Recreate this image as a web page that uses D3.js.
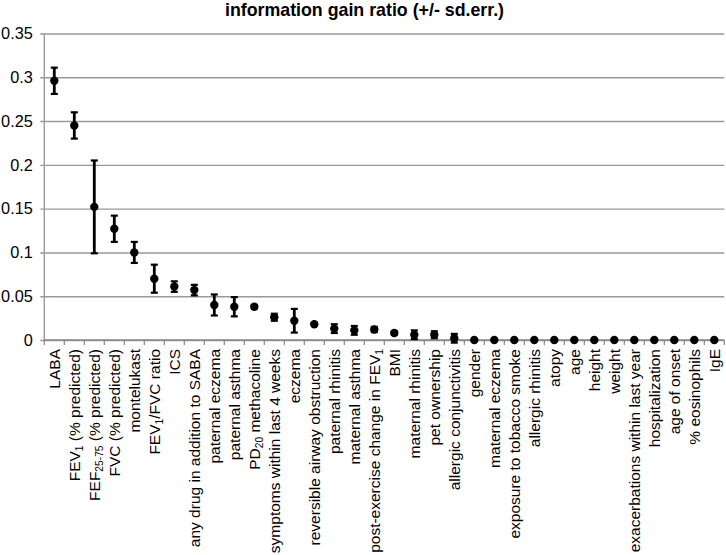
<!DOCTYPE html>
<html>
<head>
<meta charset="utf-8">
<script src="https://cdn.jsdelivr.net/npm/d3@7"></script>
<style>
  body { margin: 0; background: #fff; }
  svg { display: block; font-family: "Liberation Sans", Arial, sans-serif; }
</style>
</head>
<body>
<svg id="chart" width="726" height="555"></svg>
<script>
// ---- data ----
const categories = [
  "LABA", "FEV_{1} (% predicted)", "FEF_{25-75} (% predicted)", "FVC (% predicted)",
  "montelukast", "FEV_{1}/FVC ratio", "ICS", "any drug in addition to SABA",
  "paternal eczema", "paternal asthma", "PD_{20} methacoline", "symptoms within last 4 weeks",
  "eczema", "reversible airway obstruction", "paternal rhinitis", "maternal asthma",
  "post-exercise change in FEV_{1}", "BMI", "maternal rhinitis", "pet ownership",
  "allergic conjunctivitis", "gender", "maternal eczema", "exposure to tobacco smoke",
  "allergic rhinitis", "atopy", "age", "height", "weight",
  "exacerbations within last year", "hospitalization", "age of onset", "% eosinophils", "IgE"
];
const gainRatio = [
  0.296, 0.245, 0.152, 0.127, 0.100, 0.070, 0.061, 0.057,
  0.040, 0.038, 0.038, 0.026, 0.022, 0.018, 0.013, 0.011,
  0.012, 0.008, 0.006, 0.006, 0.002, 0, 0, 0,
  0, 0, 0, 0, 0, 0, 0, 0, 0, 0
];
const stdErr = [
  0.015, 0.015, 0.053, 0.015, 0.012, 0.016, 0.006, 0.006,
  0.012, 0.011, 0.002, 0.004, 0.0135, 0.001, 0.005, 0.005,
  0.003, 0.002, 0.005, 0.004, 0.005, 0, 0, 0,
  0, 0, 0, 0, 0, 0, 0, 0, 0, 0
];
const yTicks = [0, 0.05, 0.1, 0.15, 0.2, 0.25, 0.3, 0.35];
const title = "information gain ratio (+/- sd.err.)";

const data = categories.map((c, i) => ({ cat: c, v: gainRatio[i], e: stdErr[i] }));

// ---- layout ----
const svg = d3.select("#chart");
const mLeft = 44.3, mRight = 724.3, mTop = 33.5, mBottom = 340;
const fs = 15.5;

const x = d3.scaleBand().domain(categories).range([mLeft, mRight]).padding(0);
const y = d3.scaleLinear().domain([0, 0.35]).range([mBottom, mTop]);

// title
svg.append("text")
  .attr("x", 364.5).attr("y", 15.5)
  .attr("text-anchor", "middle")
  .attr("font-weight", "bold")
  .attr("font-size", 17.8)
  .text(title);

// gridlines + y axis
const yAxis = d3.axisLeft(y).tickValues(yTicks)
  .tickSize(-(mRight - mLeft)).tickPadding(8)
  .tickFormat(d => d === 0 ? "0" : String(+d.toFixed(2)));
const gy = svg.append("g").attr("transform", `translate(${mLeft},0)`).call(yAxis);
gy.select(".domain").remove();
gy.selectAll(".tick line").attr("stroke", "#999").attr("stroke-width", 1.4).attr("x1", -4);
gy.selectAll(".tick text").attr("font-size", 16.3).attr("fill", "#000")
  .attr("font-family", "Liberation Sans, Arial, sans-serif").attr("x", -11.5);

// y axis line
svg.append("line")
  .attr("x1", mLeft).attr("x2", mLeft)
  .attr("y1", y(0.35)).attr("y2", mBottom)
  .attr("stroke", "#999").attr("stroke-width", 1.4);

// x axis line + ticks at band boundaries
svg.append("line")
  .attr("x1", mLeft).attr("x2", mRight)
  .attr("y1", mBottom).attr("y2", mBottom)
  .attr("stroke", "#888").attr("stroke-width", 1.4);
const bounds = categories.map(c => x(c)).concat([mRight]);
svg.append("g").selectAll("line").data(bounds).join("line")
  .attr("x1", d => d).attr("x2", d => d)
  .attr("y1", mBottom).attr("y2", mBottom + 5)
  .attr("stroke", "#888").attr("stroke-width", 1.2);

// x labels with subscripts
const lab = svg.append("g").selectAll("text").data(categories).join("text")
  .attr("transform", d => `translate(${x(d) + x.bandwidth() / 2},349) rotate(-90)`)
  .attr("text-anchor", "end")
  .attr("dy", "0.38em")
  .attr("font-size", fs)
  .attr("fill", "#000");
lab.each(function(d) {
  const t = d3.select(this);
  const parts = d.split(/(_\{[^}]*\})/).filter(s => s.length);
  let shifted = false;
  parts.forEach(p => {
    if (p.startsWith("_{")) {
      t.append("tspan").attr("font-size", fs * 0.66).attr("dy", 3).text(p.slice(2, -1));
      shifted = true;
    } else {
      const ts = t.append("tspan").text(p);
      if (shifted) { ts.attr("dy", -3); shifted = false; }
    }
  });
});

// error bars
const eb = svg.append("g").selectAll("g").data(data.filter(d => d.e > 0)).join("g");
const cx = d => x(d.cat) + x.bandwidth() / 2;
eb.append("line")
  .attr("x1", cx).attr("x2", cx)
  .attr("y1", d => y(d.v + d.e)).attr("y2", d => y(d.v - d.e))
  .attr("stroke", "#000").attr("stroke-width", 2.8);
eb.append("line")
  .attr("x1", d => cx(d) - 3.5).attr("x2", d => cx(d) + 3.5)
  .attr("y1", d => y(d.v + d.e)).attr("y2", d => y(d.v + d.e))
  .attr("stroke", "#000").attr("stroke-width", 2.2);
eb.append("line")
  .attr("x1", d => cx(d) - 3.5).attr("x2", d => cx(d) + 3.5)
  .attr("y1", d => y(d.v - d.e)).attr("y2", d => y(d.v - d.e))
  .attr("stroke", "#000").attr("stroke-width", 2.2);

// points
svg.append("g").selectAll("circle").data(data).join("circle")
  .attr("cx", cx).attr("cy", d => y(d.v))
  .attr("r", 4.2).attr("fill", "#000");
</script>
</body>
</html>
